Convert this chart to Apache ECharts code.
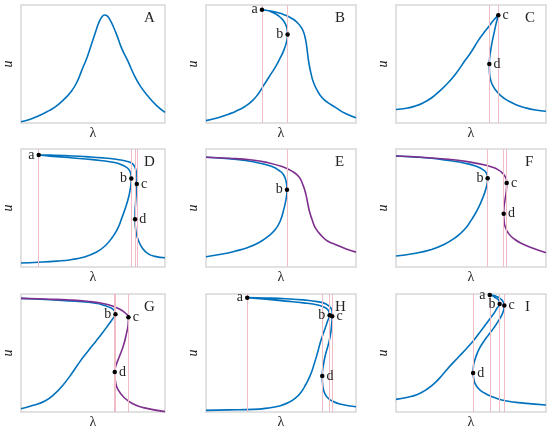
<!DOCTYPE html>
<html>
<head>
<meta charset="utf-8">
<title>response curves</title>
<script src="https://cdn.jsdelivr.net/npm/echarts@6/dist/echarts.min.js"></script>
<style>
  html, body { margin: 0; padding: 0; background: #fff; }
  #chart { width: 550px; height: 430px; }
</style>
</head>
<body>
<div id="chart"></div>
<script>
// curve points per panel, [lambda, u] in percent of the panel box
var curveA = [[0,1],[6,3],[12,6],[18,9.5],[23,13],[29,19],[35,27],[39,35],[42,44],[46,56],[49,67],[52,78],
              [54,85],[56,89.5],[58,91.5],[60,90.5],[62,87],[64,82],[67,73],[70,63],[74,53],[79,39.5],
              [83,31],[88,23],[94,15],[100,9]];

var curveB = [[0,2],[8,4.5],[15,7.5],[20,10],[26,14],[31,19],[35,25],[38,31],[42,39],[46,47],[49,54],[52,62],
              [53.7,69],[54.4,75],[54,80],[52.5,85],[50,89],[47,92],[43,94.5],[40,95.5],[37.3,96],
              [42,95.2],[47,93.8],[52,91.8],[57,88.8],[61,85],[64,80],[65.8,74],[67,66],[67.8,58],[68.7,50],
              [70,42],[71.5,35],[74,28],[77,22],[81,17.5],[86,13.5],[93,8],[100,4.5]];
var pointsB = [[37.3,96,'a','left'],[54.4,75,'b','left']];

var curveC = [[0,11.4],[7,12.5],[12.7,14.3],[18,17],[23.8,21.4],[29,27],[34.9,34.3],[40,42],[46,52.9],[50,60],
              [54.9,70],[58,75.5],[61.6,81.4],[65,87],[68.2,91.4],
              [67.5,88],[66.5,83],[65.5,77],[64.3,70],[63.2,62],[62.5,56],[62.2,50],[62.3,44],[62.7,38.6],
              [64,33],[66,28.6],[70,23],[75.1,18.6],[80,15.5],[86.2,12.9],[93,11],[100,10]];
var pointsC = [[68.2,91.4,'c','right'],[62.2,50,'d','right']];

var curveD = [[0,3.4],[12,4],[25,5],[34.6,6.2],[44,8.5],[52.5,12.7],[58.5,18],[63.6,25.5],[67.3,33],[70.3,42.5],
              [72.8,51],[74.8,59.5],[76,67],[76.6,75.1],[76,80],[74.3,83.5],[71,86],[65,88.5],[55,90.3],
              [45,91.5],[30,93],[20,94],[12.3,94.9],
              [20,94.8],[30,94.5],[45,93.5],[57,92.5],[66,91.3],[72,90],[76,88.5],[78.5,86],[80,81],[80.5,76],
              [80.4,70.3],[80,62],[79.5,53],[79.2,46],[79.2,40.5],[79.5,33],[80.3,27],[81.5,22.7],[84,16.5],
              [88.2,11.3],[93,9],[100,7.9]];
var pointsD = [[12.3,94.9,'a','left'],[76.6,75.1,'b','left'],[80.4,70.3,'c','right'],[79.2,40.5,'d','right']];

var blueE = [[0,8.7],[10,10.8],[19.6,13.5],[28,16.5],[35.1,20.5],[41,25.5],[46.2,31.7],[49.5,39],[51.8,48.6],
             [53.3,57],[54,65.4],[53.5,72],[51.8,78],[48.5,82],[44,85.1],[36,88],[26.2,90.2],[13,92],[0,93]];
var purpleE = [[0,93],[15,92.2],[30.7,90.7],[41,88.5],[50.7,85.1],[57,81.5],[61.8,76.7],[64.8,69],[66.5,62],
               [67.8,54],[69,47],[70.7,40.2],[73,33],[77.3,26.1],[81,22],[86.2,19.1],[93,15.5],[100,12.6]];
var pointsE = [[54,65.4,'b','left']];

var blueF = [[0,9.3],[12,11.5],[23.8,14.9],[32,19],[39.3,24.7],[45.5,31.5],[50.4,40.2],[54.5,49],[58.2,59.8],
             [60.3,68],[61.1,75.3],[60.3,79.5],[58.2,82.3],[53,85.5],[46,87.9],[35,90.2],[23.8,92.1],[12,93.3],[0,94.1]];
var purpleF = [[0,94.1],[17,93],[34.9,91.3],[48,89.2],[59.3,86.5],[64.5,84.5],[68.2,82.3],[71,79.5],[72.7,76.7],
               [73.6,74],[73.8,71.1],[73.5,64],[72.7,57],[72,50.5],[71.8,45.2],[72,40],[72.7,34.6],[75,28.5],
               [79.3,23.3],[84.5,19.5],[90.4,16.3],[100,12.1]];
var pointsF = [[61.1,75.3,'b','left'],[73.8,71.1,'c','right'],[71.8,45.2,'d','right']];

var blueG = [[0,2.8],[8,5.5],[16.6,9.3],[23.5,15.5],[29.8,23.8],[35.5,33],[40.8,42.5],[46.5,51.5],[51.9,59.8],
             [56.5,67],[60.7,73.9],[63.7,79],[65.6,82.9],[65,85.5],[62.9,87.9],[58,90.2],[51.9,92.1],[38,93.8],
             [23.2,94.9],[10,95.7],[0,96.3]];
var purpleG = [[0,96.3],[17,95.7],[34.2,94.9],[46,93.8],[56.3,92.1],[63.5,89.8],[69.5,86.5],[72.8,83.5],
               [74.6,80.3],[74.4,73.9],[73.3,66.9],[71.3,57],[68.4,47.2],[66.2,40.2],[65.1,34],[65.6,26.1],
               [67.3,19.1],[71.7,12.1],[78.4,6.5],[84.9,3.7],[100,0.3]];
var pointsG = [[65.6,82.9,'b','left'],[74.6,80.3,'c','right'],[65.1,34,'d','right']];

var curveH = [[0,1.4],[15,1.8],[31.3,2.2],[41,3.3],[48.9,5.1],[55,8],[59.9,12.1],[63.5,17],[66.5,23.3],[69.5,31],
              [72,40.2],[74.3,50],[76.4,59.8],[78.2,66.5],[79.7,72],[81.2,77.5],[82.4,82],[82,85],[80.8,87.2],
              [78,89.2],[75.3,90.5],[65,92.5],[53.3,94],[40,95.6],[27.5,96.9],
              [40,96.6],[53.3,96],[65,95],[75.3,93.3],[80,91.5],[83,88.5],[84.1,85],[84.1,81.2],[83.7,73.5],
              [83,65.7],[81.5,57],[79.7,48.9],[78.3,40],[77.5,30.6],[77.7,24],[78.6,17.7],[80.5,13],[84.1,9.3],
              [90,6.5],[100,4.5]];
var pointsH = [[27.5,96.9,'a','left'],[82.4,82,'b','left'],[84.1,81.2,'c','right'],[77.5,30.6,'d','right']];

var curveI = [[0,10.7],[7,12.3],[14.3,14.9],[20,18.8],[25.4,24],[31,31.5],[36.4,39.5],[42,47],[47.5,54.5],
              [52,61],[56.3,68.3],[60,74.5],[62.9,79.5],[65.5,84],[67.3,87.9],[69.1,91.6],[68.6,94.5],[66.2,96.9],
              [64.3,98.4],[62.5,99.2],
              [65.5,98.7],[68.4,97],[70.5,95],[71.7,92.6],[72.2,90.2],[71.8,86.5],[70.6,82.3],[68.2,77],
              [65.1,71.1],[61.8,65.5],[58.5,59.8],[55.3,53],[53,45.8],[51.7,39.5],[51.4,33.1],[51.9,28],
              [53,23.3],[56,18.5],[60.7,14.9],[66,12],[73.9,9.3],[85,7.5],[100,5.9]];
var pointsI = [[62.5,99.2,'a','left'],[69.1,91.6,'b','left'],[72.2,90.2,'c','right'],[51.4,33.1,'d','right']];

var BLUE = '#0072BD';
var PURPLE = '#7E2F8E';
var SERIF = '"Liberation Serif", "DejaVu Serif", serif';

var panels = [
  {name:'A', curves:[[curveA,BLUE]], points:[]},
  {name:'B', curves:[[curveB,BLUE]], points:pointsB},
  {name:'C', curves:[[curveC,BLUE]], points:pointsC},
  {name:'D', curves:[[curveD,BLUE]], points:pointsD},
  {name:'E', curves:[[blueE,BLUE],[purpleE,PURPLE]], points:pointsE},
  {name:'F', curves:[[blueF,BLUE],[purpleF,PURPLE]], points:pointsF},
  {name:'G', curves:[[blueG,BLUE],[purpleG,PURPLE]], points:pointsG},
  {name:'H', curves:[[curveH,BLUE]], points:pointsH},
  {name:'I', curves:[[curveI,BLUE]], points:pointsI}
];

var colLeft = [15, 206, 396];
var rowTop = [5, 149, 294];
var W = 150, H = 118;

var grids = [], xAxes = [], yAxes = [], series = [], graphics = [];

panels.forEach(function (p, i) {
  var c = i % 3, r = Math.floor(i / 3);
  grids.push({left: colLeft[c], top: rowTop[r], width: W, height: H,
              show: true, borderColor: '#d8d8d8', borderWidth: 1.5, backgroundColor: '#fff'});
  xAxes.push({type: 'value', gridIndex: i, min: 0, max: 100,
              name: 'λ', nameLocation: 'middle', nameGap: 3,
              nameTextStyle: {fontFamily: SERIF, fontSize: 14, color: '#222'},
              axisLine: {show: false}, axisTick: {show: false}, axisLabel: {show: false}, splitLine: {show: false}});
  yAxes.push({type: 'value', gridIndex: i, min: 0, max: 100,
              name: 'u', nameLocation: 'middle', nameGap: 6,
              nameTextStyle: {fontFamily: SERIF, fontSize: 14, fontStyle: 'italic', color: '#222'},
              axisLine: {show: false}, axisTick: {show: false}, axisLabel: {show: false}, splitLine: {show: false}});

  // pink guide lines through the marked points
  if (p.points.length) {
    series.push({type: 'line', xAxisIndex: i, yAxisIndex: i, data: [], silent: true,
      markLine: {symbol: 'none', silent: true, label: {show: false},
                 lineStyle: {color: '#f0bcc6', width: 1, type: 'solid'},
                 data: p.points.map(function (pt) { return {xAxis: pt[0]}; })}});
  }

  p.curves.forEach(function (cv) {
    series.push({type: 'line', xAxisIndex: i, yAxisIndex: i, data: cv[0], z: 3,
                 smooth: 0.5, showSymbol: false, symbol: 'none',
                 lineStyle: {color: cv[1], width: 1.6}});
  });

  if (p.points.length) {
    series.push({type: 'scatter', xAxisIndex: i, yAxisIndex: i, symbol: 'circle', symbolSize: 4.5, z: 10,
      itemStyle: {color: '#000', borderWidth: 0, opacity: 1},
      data: p.points.map(function (pt) {
        return {value: [pt[0], pt[1]],
                label: {show: true, formatter: pt[2], position: pt[3], distance: 2,
                        fontFamily: SERIF, fontSize: 14, color: '#222'}};
      })});
  }

  graphics.push({type: 'text', left: colLeft[c] + W - 21, top: rowTop[r] + 6,
                 style: {text: p.name, font: '15px ' + SERIF, fill: '#222'}});
});

var myChart = echarts.init(document.getElementById('chart'));
myChart.setOption({
  animation: false,
  grid: grids,
  xAxis: xAxes,
  yAxis: yAxes,
  series: series,
  graphic: graphics
});
</script>
</body>
</html>
